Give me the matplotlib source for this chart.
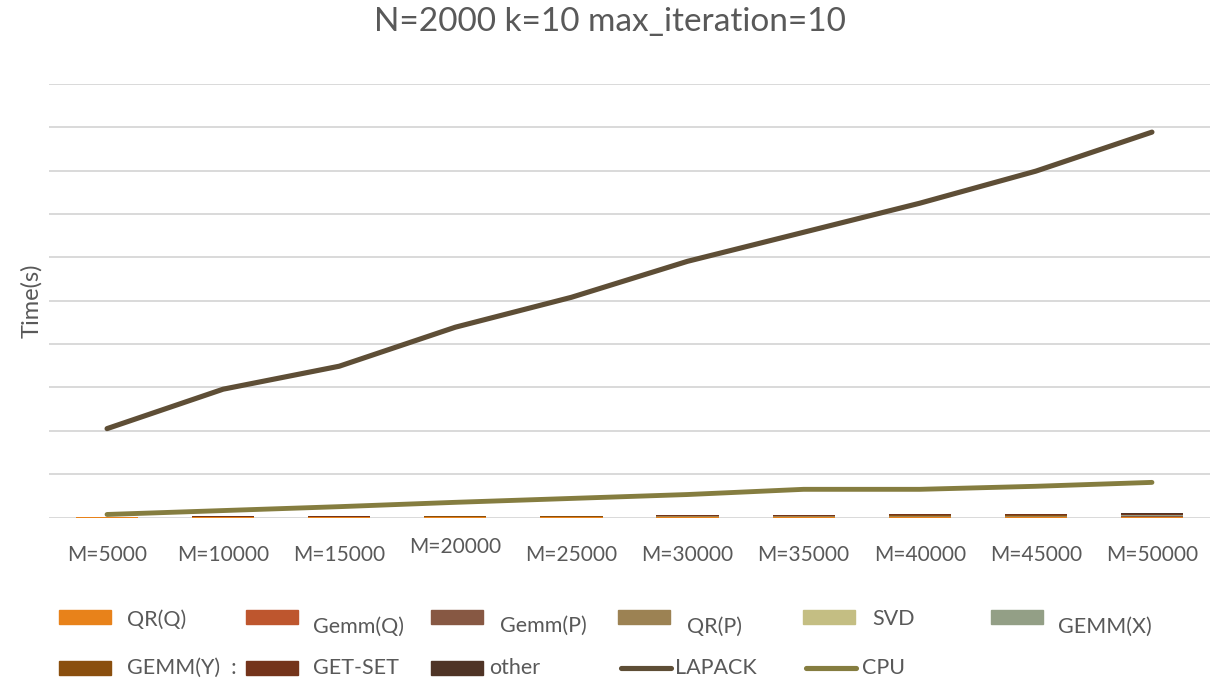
import numpy as np
import matplotlib.pyplot as plt
from matplotlib.patches import Rectangle
from matplotlib.lines import Line2D

plt.rcParams['font.family'] = ['Lato', 'DejaVu Sans']

W, H = 1225, 681

# problem sizes on the x axis
sizes = ['M=5000', 'M=10000', 'M=15000', 'M=20000', 'M=25000',
         'M=30000', 'M=35000', 'M=40000', 'M=45000', 'M=50000']

# per-stage times (stacked bars)
qr_q    = [0.001, 0.001, 0.001, 0.002, 0.002, 0.002, 0.002, 0.003, 0.003, 0.004]
gemm_q  = [0.002, 0.002, 0.002, 0.003, 0.003, 0.004, 0.004, 0.005, 0.005, 0.006]
gemm_p  = [0.004, 0.005, 0.005, 0.007, 0.008, 0.010, 0.010, 0.015, 0.015, 0.018]
qr_p    = [0.003, 0.004, 0.004, 0.006, 0.006, 0.008, 0.008, 0.013, 0.013, 0.015]
svd     = [0.001, 0.001, 0.001, 0.001, 0.001, 0.001, 0.001, 0.002, 0.002, 0.002]
gemm_x  = [0.001, 0.001, 0.001, 0.002, 0.002, 0.002, 0.002, 0.003, 0.003, 0.004]
gemm_y  = [0.002, 0.002, 0.002, 0.003, 0.003, 0.004, 0.004, 0.006, 0.006, 0.007]
get_set = [0.006, 0.008, 0.008, 0.013, 0.013, 0.016, 0.016, 0.030, 0.030, 0.035]
other   = [0.003, 0.004, 0.004, 0.006, 0.006, 0.010, 0.010, 0.015, 0.015, 0.020]

# totals
lapack = [2.05, 2.96, 3.49, 4.39, 5.08, 5.91, 6.58, 7.25, 7.99, 8.89]
cpu    = [0.07, 0.16, 0.25, 0.35, 0.44, 0.53, 0.65, 0.65, 0.72, 0.81]

stage_names = ['QR(Q)', 'Gemm(Q)', 'Gemm(P)', 'QR(P)', 'SVD', 'GEMM(X)',
               'GEMM(Y)  :', 'GET-SET', 'other']
stage_vals = [qr_q, gemm_q, gemm_p, qr_p, svd, gemm_x, gemm_y, get_set, other]
stage_cols = ['#E8821A', '#BE562E', '#875843', '#9C8253', '#C4BE83', '#939F86',
              '#8A4F0E', '#74341B', '#4F3426']
lapack_col, cpu_col = '#5E4E36', '#857D40'
grey = '#595959'

fig = plt.figure(figsize=(W / 100, H / 100), dpi=100)
ax = fig.add_axes([49 / W, 1 - 517.5 / H, 1161 / W, 433.5 / H])

x = np.arange(len(sizes))
bottom = np.zeros(len(sizes))
for vals, col in zip(stage_vals, stage_cols):
    ax.bar(x, vals, 0.535, bottom=bottom, color=col, zorder=2)
    bottom += np.array(vals)

ax.plot(x, lapack, color=lapack_col, lw=3.7, solid_capstyle='round', zorder=3)
ax.plot(x, cpu, color=cpu_col, lw=3.5, solid_capstyle='round', zorder=3)

ax.set_xlim(-0.5, 9.5)
ax.set_ylim(0, 10)
ax.set_yticks(np.arange(0, 11, 1))
ax.set_yticklabels([])
ax.tick_params(axis='y', length=0)
ax.grid(axis='y', color='#D9D9D9', lw=1.4, zorder=0)
ax.set_axisbelow(True)
for s in ax.spines.values():
    s.set_visible(False)

ax.set_xticks(x)
ax.set_xticklabels(sizes, fontsize=15, color=grey)
ax.tick_params(axis='x', length=0, pad=20)
# the M=20000 label sits a little higher
ax.get_xticklabels()[3].set_y(0.02)

fig.text(31 / W, 1 - 301 / H, 'Time(s)', rotation=90, ha='center', va='center',
         fontsize=17, color=grey)
fig.text(610 / W, 1 - 22 / H, 'N=2000 k=10 max_iteration=10', ha='center',
         va='center', fontsize=24, color=grey)

# legend, drawn item by item on a fixed grid
col_x = [59, 246, 431, 618, 803, 991]
row_y = [617, 668]
text_dx = [68, 67, 69, 69, 69, 67, 68, 67, 58, 57, 59]
text_dy = [3, 10, 9, 10, 2, 10, 0, 0, 0, 0, 0]
leg_names = stage_names + ['LAPACK', 'CPU']
leg_cols = stage_cols + [lapack_col, cpu_col]
for i, (name, col) in enumerate(zip(leg_names, leg_cols)):
    r, c = divmod(i, 6)
    hx, hy = col_x[c], row_y[r]
    if i < len(stage_names):
        fig.patches.append(Rectangle((hx / W, 1 - (hy + 7) / H), 52 / W, 14 / H,
                                     transform=fig.transFigure, color=col))
    else:
        fig.lines.append(Line2D([(hx + 3) / W, (hx + 53) / W], [1 - hy / H] * 2,
                                transform=fig.transFigure, color=col, lw=3.7,
                                solid_capstyle='round'))
    fig.text((hx + text_dx[i]) / W, 1 - (hy + text_dy[i]) / H, name,
             ha='left', va='center', fontsize=15.5, color=grey)

fig.savefig('out.png', dpi=100)
